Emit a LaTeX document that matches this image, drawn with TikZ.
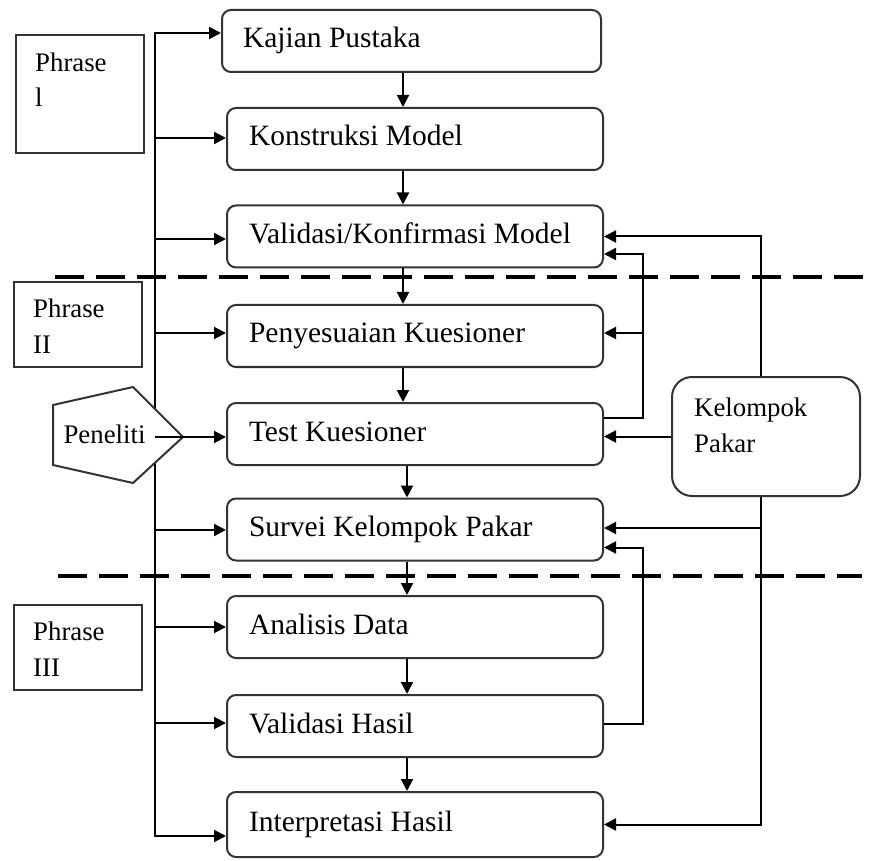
\documentclass[tikz,border=0pt]{standalone}
\usepackage{fontspec}
\setmainfont{Liberation Serif}
\usetikzlibrary{arrows.meta}
\begin{document}
\begin{tikzpicture}[x=1pt,y=-1pt,
  stepbox/.style={draw=black!80, line width=2pt, rounded corners=9pt,
    minimum width=376pt, minimum height=62pt, text width=332pt,
    inner xsep=22pt, inner ysep=0pt, align=left,
    text height=20.5pt, text depth=6.5pt,
    font=\fontsize{29.5}{35}\selectfont,
    execute at begin node={\spaceskip=0pt\xspaceskip=0pt\relax}},
  phrasebox/.style={draw=black!80, line width=2pt, minimum width=128pt, inner sep=0pt},
  pakarbox/.style={draw=black!80, line width=2pt, rounded corners=20pt,
    minimum width=188pt, minimum height=119pt, inner sep=0pt},
  softtext/.style={font=\fontsize{26.8}{35.5}\selectfont, inner sep=0pt, align=left},
  wire/.style={line width=2pt, draw=black},
  conn/.style={wire, -{Triangle[length=12pt,width=12pt]}},
  dashline/.style={line width=3.5pt, draw=black, dash pattern=on 29pt off 12pt}
]
\useasboundingbox (0,0) rectangle (871,861);

% section separators
\draw[dashline] (55,277) -- (871,277);
\draw[dashline] (58,576) -- (862,576);

% main process steps
\node[stepbox, minimum width=379pt, text width=337pt, inner xsep=21pt] (kajian) at (411.5,41) {Kajian Pustaka};
\node[stepbox] (konstruksi) at (415,139) {Konstruksi Model};
\node[stepbox] (validasi) at (415,236.5) {Validasi/Konfirmasi Model};
\node[stepbox] (penyesuaian) at (415,336) {Penyesuaian Kuesioner};
\node[stepbox] (test) at (415,434) {Test Kuesioner};
\node[stepbox] (survei) at (415,529.5) {Survei Kelompok Pakar};
\node[stepbox] (analisis) at (415,627) {Analisis Data};
\node[stepbox] (valhasil) at (415,726) {Validasi Hasil};
\node[stepbox, minimum height=65pt] (interp) at (415,824.5) {Interpretasi Hasil};

% downward flow
\coordinate (ax) at (403,0);
\coordinate (bx) at (407,0);
\draw[conn] (kajian.south -| ax) -- (konstruksi.north -| ax);
\draw[conn] (konstruksi.south -| ax) -- (validasi.north -| ax);
\draw[conn] (validasi.south -| ax) -- (penyesuaian.north -| ax);
\draw[conn] (penyesuaian.south -| ax) -- (test.north -| ax);
\draw[conn] (test.south -| bx) -- (survei.north -| bx);
\draw[conn] (survei.south -| bx) -- (analisis.north -| bx);
\draw[conn] (analisis.south -| bx) -- (valhasil.north -| bx);
\draw[conn] (valhasil.south -| bx) -- (interp.north -| bx);

% phase labels
\node[phrasebox, minimum height=118pt] (ph1) at (80,94) {};
\node[softtext, anchor=north west] (ph1text) at ([xshift=20pt,yshift=-18.5pt]ph1.north west) {Phrase\\l};
\node[phrasebox, minimum height=85pt] (ph2) at (78,324.5) {};
\node[softtext, anchor=north west] (ph2text) at ([xshift=20pt,yshift=-18pt]ph2.north west) {Phrase\\II};
\node[phrasebox, minimum height=85pt] (ph3) at (78,647.5) {};
\node[softtext, anchor=north west] (ph3text) at ([xshift=20pt,yshift=-18pt]ph3.north west) {Phrase\\III};

% researcher bus on the left
\foreach \n/\y in {kajian/33,konstruksi/138,validasi/239,penyesuaian/333,test/437,survei/530,analisis/627,valhasil/723,interp/836}
  \coordinate (bus-\n) at (155,\y);
\draw[wire, line cap=rect] (bus-kajian) -- (bus-interp);
\foreach \n in {kajian,konstruksi,validasi,penyesuaian,survei,analisis,valhasil,interp}
  \draw[conn] (bus-\n) -- (\n.west |- bus-\n);

% researcher
\draw[line width=2pt, draw=black!80, fill=white] (53,405) -- (133,387) -- (183,437) -- (133,483) -- (53,465) -- cycle;
\node[softtext] (peneliti) at (104.5,434) {Peneliti};
\draw[conn] (bus-test) -- (test.west |- bus-test);

% expert group
\node[pakarbox] (pakar) at (766,436.5) {};
\node[softtext, anchor=north west] (pakartext) at ([xshift=23pt,yshift=-22pt]pakar.north west) {Kelompok\\Pakar};

\coordinate (rx) at (761,0);
\coordinate (lx) at (643,0);
\draw[conn] (pakar.north -| rx) |- (validasi.east);
\draw[conn] (pakar.west) -- (test.east |- pakar.west);
\draw[conn] (pakar.south -| rx) |- (interp.east);
\draw[conn] ([yshift=1.5pt]survei.east -| rx) -- ([yshift=1.5pt]survei.east);

% feedback loops
\coordinate (lv) at ([yshift=-17.5pt]validasi.east);
\draw[conn] ([yshift=16pt]test.east) -| (lx |- lv) -- (lv);
\draw[conn] ([yshift=3pt]penyesuaian.east -| lx) -- ([yshift=3pt]penyesuaian.east);
\coordinate (ls) at ([yshift=-18pt]survei.east);
\draw[conn] ([yshift=2pt]valhasil.east) -| (lx |- ls) -- (ls);
\end{tikzpicture}
\end{document}
